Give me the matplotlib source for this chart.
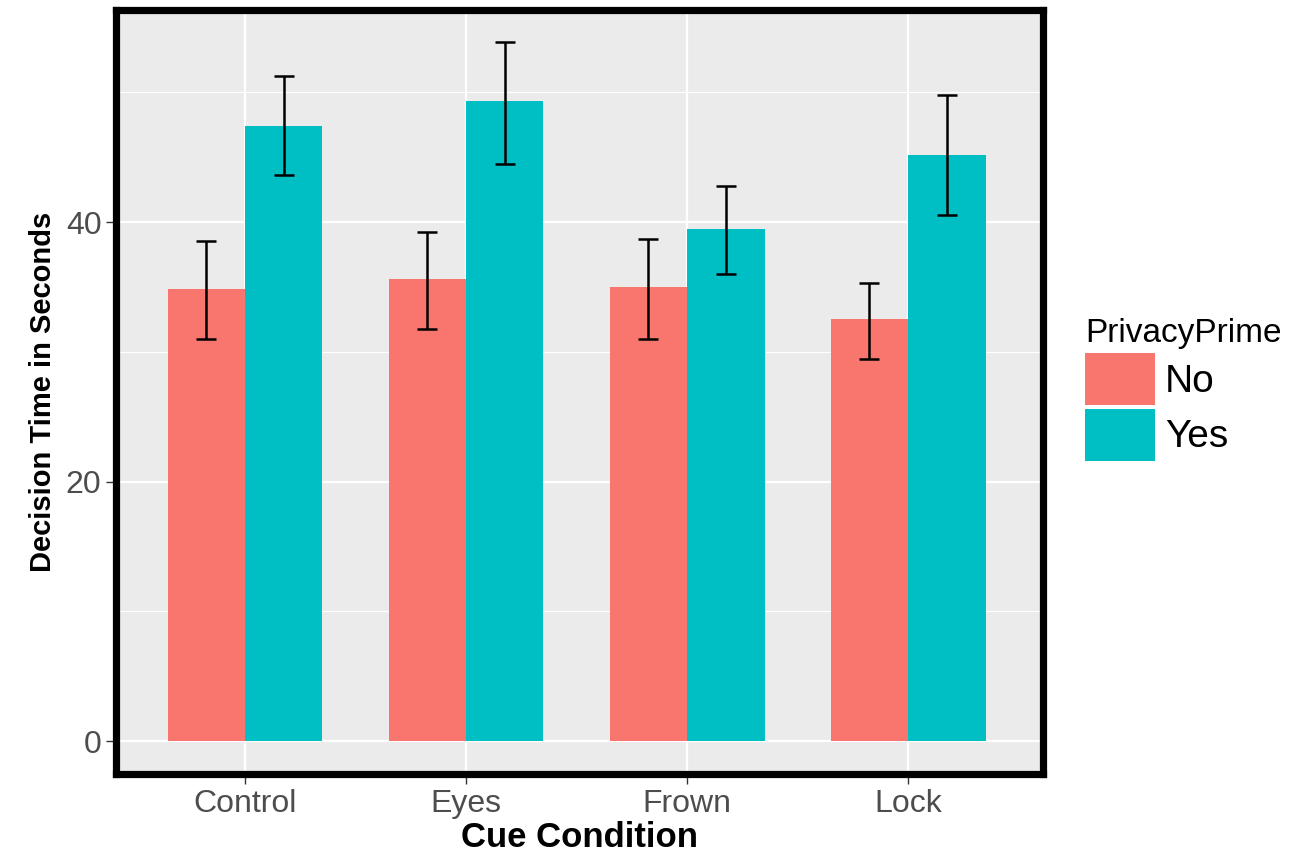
import numpy as np
import matplotlib
matplotlib.use('Agg')
import matplotlib.pyplot as plt
from matplotlib.patches import Patch

plt.rcParams['font.family'] = ['Liberation Sans', 'DejaVu Sans']

conditions = ['Control', 'Eyes', 'Frown', 'Lock']
groups = ['No', 'Yes']
colors = ['#F8766D', '#00BFC4']

mean_no = [34.8, 35.6, 35.0, 32.55]
lo_no = [30.96, 31.72, 31.0, 29.46]
hi_no = [38.54, 39.25, 38.7, 35.3]

mean_yes = [47.4, 49.3, 39.5, 45.16]
lo_yes = [43.59, 44.5, 36.0, 40.56]
hi_yes = [51.28, 53.9, 42.8, 49.76]

fig = plt.figure(figsize=(13.08, 8.55), dpi=100)
ax = fig.add_axes([116 / 1308, 1 - 774 / 855, (1043 - 116) / 1308, (774 - 10) / 855])
ax.set_facecolor('#EBEBEB')

x = np.arange(len(conditions))
w = 0.35
for k, (m, lo, hi) in enumerate([(mean_no, lo_no, hi_no), (mean_yes, lo_yes, hi_yes)]):
    pos = x + (k - 0.5) * w
    m = np.array(m)
    ax.bar(pos, m, width=w, color=colors[k], zorder=2)
    err = [m - np.array(lo), np.array(hi) - m]
    ax.errorbar(pos, m, yerr=err, fmt='none', ecolor='black', elinewidth=1.8,
                capsize=7.5, capthick=1.8, zorder=3)

ax.set_xlim(-0.584, 3.61)
ax.set_ylim(-2.54, 56.34)
ax.set_xticks(x)
ax.set_xticklabels(conditions)
ax.set_yticks([0, 20, 40])
ax.set_yticks([10, 30, 50], minor=True)

ax.grid(which='major', color='white', linewidth=1.6, zorder=0)
ax.grid(which='minor', axis='y', color='white', linewidth=0.8, zorder=0)
ax.set_axisbelow(True)

ax.tick_params(axis='both', which='major', length=7.5, width=1.0, color='#333333',
               labelsize=23, labelcolor='#4D4D4D', pad=3)
ax.tick_params(axis='y', which='minor', length=0)
ax.tick_params(axis='x', which='minor', length=0, bottom=False)

for s in ax.spines.values():
    s.set_linewidth(5.2)
    s.set_color('black')
    s.set_zorder(5)

ax.set_xlabel('Cue Condition', fontsize=25, fontweight='bold', labelpad=2)
ax.set_ylabel('Decision Time in Seconds', fontsize=21, fontweight='bold', labelpad=6)

handles = [Patch(facecolor=colors[0], edgecolor='none'),
           Patch(facecolor=colors[1], edgecolor='none')]
leg = fig.legend(handles, groups, title='PrivacyPrime', loc='upper left',
                 bbox_to_anchor=(1085 / 1308, 1 - 318 / 855), frameon=False,
                 fontsize=28, title_fontsize=24, handlelength=1.8, handleheight=1.68,
                 labelspacing=0.1, handletextpad=0.26, borderpad=0, borderaxespad=0)
leg._legend_box.align = 'left'

fig.savefig('out.png', dpi=100)
